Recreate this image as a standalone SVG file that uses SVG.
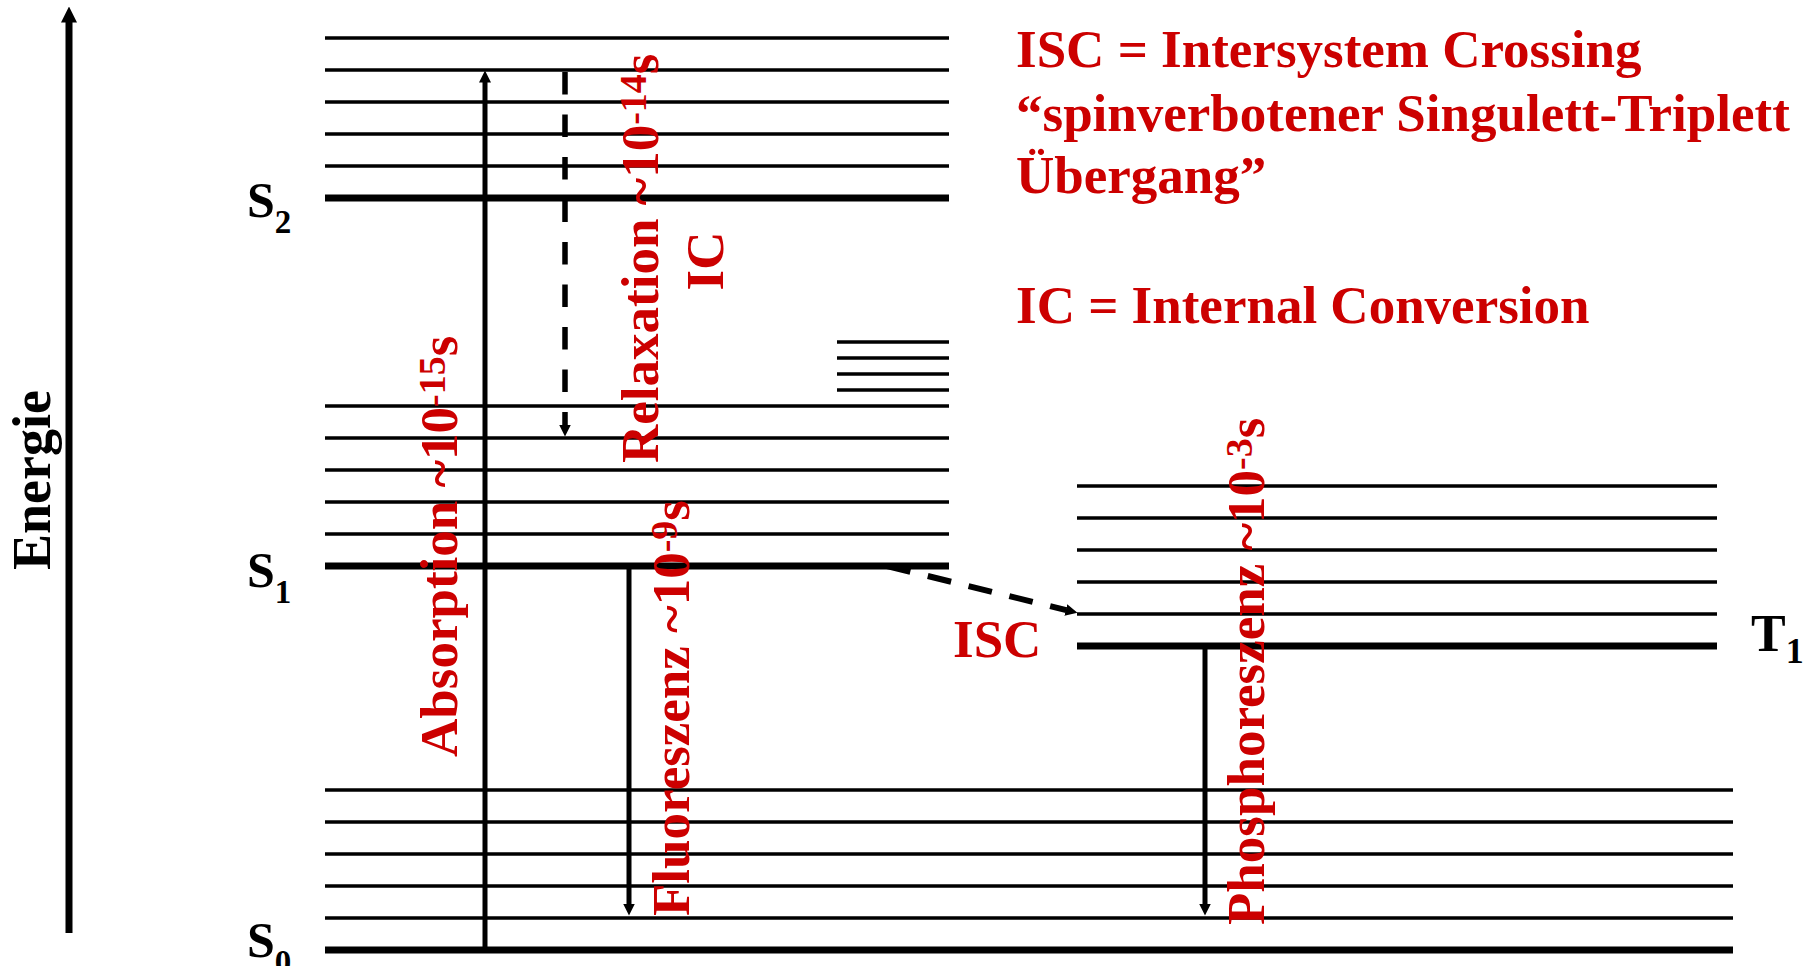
<svg xmlns="http://www.w3.org/2000/svg" width="1815" height="966" viewBox="0 0 1815 966">
<style>
.lv{stroke:#000;stroke-width:3.6;fill:none}
.lvt{stroke:#000;stroke-width:7;fill:none}
.ar{stroke:#000;stroke-width:5;fill:none}
.ard{stroke:#000;stroke-width:5.5;fill:none;stroke-dasharray:22.5 20}
.ari{stroke:#000;stroke-width:6;fill:none;stroke-dasharray:24 18}
.lab{font-family:"Liberation Serif","Times New Roman",serif;font-weight:bold;fill:#000}
.red{font-family:"Liberation Serif","Times New Roman",serif;font-weight:bold;fill:#CC0000;font-size:53px}
</style>
<defs>
<marker id="ah" markerUnits="userSpaceOnUse" markerWidth="12" markerHeight="12" viewBox="0 0 12 12" refX="0.5" refY="6" orient="auto"><path d="M0,0 L12,6 L0,12 z" fill="#000"/></marker>
<marker id="ahBig" markerUnits="userSpaceOnUse" markerWidth="16" markerHeight="16" viewBox="0 0 16 16" refX="0.5" refY="8" orient="auto"><path d="M0,0 L16,8 L0,16 z" fill="#000"/></marker>
</defs>
<rect width="1815" height="966" fill="#fff"/>

<g id="energy-axis">
<line x1="69" y1="933" x2="69" y2="22" stroke="#000" stroke-width="7" marker-end="url(#ahBig)"/>
<text class="lab" font-size="54" transform="translate(50,570) rotate(-90)">Energie</text>
</g>

<g id="S2">
<line class="lv" x1="325" y1="38" x2="949" y2="38"/>
<line class="lv" x1="325" y1="70" x2="949" y2="70"/>
<line class="lv" x1="325" y1="102" x2="949" y2="102"/>
<line class="lv" x1="325" y1="134" x2="949" y2="134"/>
<line class="lv" x1="325" y1="166" x2="949" y2="166"/>
<line class="lvt" x1="325" y1="198" x2="949" y2="198"/>
<text class="lab" font-size="50" x="247" y="217">S<tspan font-size="33" dy="16">2</tspan></text>
</g>

<g id="upper-levels">
<line class="lv" x1="837" y1="342" x2="949" y2="342"/>
<line class="lv" x1="837" y1="358" x2="949" y2="358"/>
<line class="lv" x1="837" y1="374" x2="949" y2="374"/>
<line class="lv" x1="837" y1="390" x2="949" y2="390"/>
</g>

<g id="S1">
<line class="lv" x1="325" y1="406" x2="949" y2="406"/>
<line class="lv" x1="325" y1="438" x2="949" y2="438"/>
<line class="lv" x1="325" y1="470" x2="949" y2="470"/>
<line class="lv" x1="325" y1="502" x2="949" y2="502"/>
<line class="lv" x1="325" y1="534" x2="949" y2="534"/>
<line class="lvt" x1="325" y1="566" x2="949" y2="566"/>
<text class="lab" font-size="50" x="247" y="587">S<tspan font-size="33" dy="16">1</tspan></text>
</g>

<g id="T1">
<line class="lv" x1="1077" y1="486" x2="1717" y2="486"/>
<line class="lv" x1="1077" y1="518" x2="1717" y2="518"/>
<line class="lv" x1="1077" y1="550" x2="1717" y2="550"/>
<line class="lv" x1="1077" y1="582" x2="1717" y2="582"/>
<line class="lv" x1="1077" y1="614" x2="1717" y2="614"/>
<line class="lvt" x1="1077" y1="646" x2="1717" y2="646"/>
<text class="lab" font-size="52" x="1751" y="651">T<tspan font-size="36" dy="12">1</tspan></text>
</g>

<g id="S0">
<line class="lv" x1="325" y1="790" x2="1733" y2="790"/>
<line class="lv" x1="325" y1="822" x2="1733" y2="822"/>
<line class="lv" x1="325" y1="854" x2="1733" y2="854"/>
<line class="lv" x1="325" y1="886" x2="1733" y2="886"/>
<line class="lv" x1="325" y1="918" x2="1733" y2="918"/>
<line class="lvt" x1="325" y1="950" x2="1733" y2="950"/>
<text class="lab" font-size="50" x="247" y="957">S<tspan font-size="33" dy="16">0</tspan></text>
</g>

<g id="connectors">
<line class="ar" x1="485" y1="950" x2="485" y2="82" marker-end="url(#ah)"/>
<line class="ard" x1="565" y1="72" x2="565" y2="425" marker-end="url(#ah)"/>
<line class="ar" x1="629" y1="566" x2="629" y2="904" marker-end="url(#ah)"/>
<line class="ar" x1="1205" y1="646" x2="1205" y2="904" marker-end="url(#ah)"/>
<line class="ari" x1="887" y1="566" x2="1066.3" y2="610.1" marker-end="url(#ah)"/>
</g>

<g id="labels">
<text class="red" transform="translate(457,757) rotate(-90)">Absorption ~10<tspan font-size="38" dy="-12">-15</tspan><tspan dy="12">s</tspan></text>
<text class="red" transform="translate(658,463) rotate(-90)">Relaxation ~10<tspan font-size="38" dy="-12">-14</tspan><tspan dy="12">s</tspan></text>
<text class="red" text-anchor="middle" transform="translate(723,261) rotate(-90)">IC</text>
<text class="red" transform="translate(689,916) rotate(-90)">Fluoreszenz ~10<tspan font-size="38" dy="-12">-9</tspan><tspan dy="12">s</tspan></text>
<text class="red" transform="translate(1264,925) rotate(-90)">Phosphoreszenz ~10<tspan font-size="38" dy="-12">-3</tspan><tspan dy="12">s</tspan></text>
<text class="red" x="953" y="657">ISC</text>
</g>

<g id="legend">
<text class="red" x="1016" y="67">ISC = Intersystem Crossing</text>
<text class="red" x="1016" y="131">“spinverbotener Singulett-Triplett</text>
<text class="red" x="1016" y="193">Übergang”</text>
<text class="red" x="1016" y="323">IC = Internal Conversion</text>
</g>
</svg>
